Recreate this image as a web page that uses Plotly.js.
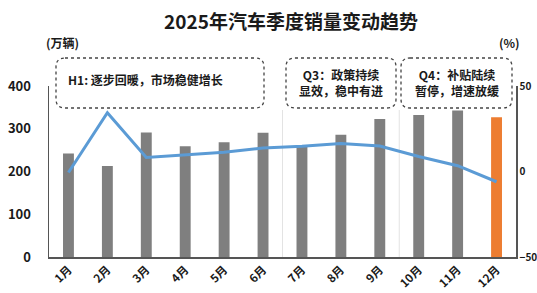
<!DOCTYPE html>
<html>
<head>
<meta charset="utf-8">
<script src="https://cdn.plot.ly/plotly-3.0.1.min.js"></script>
<style>html,body{margin:0;padding:0;background:#fff;}#chart{width:537px;height:293px;}</style>
</head>
<body>
<div id="chart"></div>
<script>
const months = ['1月','2月','3月','4月','5月','6月','7月','8月','9月','10月','11月','12月'];
const sales = [242.3, 212.9, 291.5, 259.0, 268.6, 290.4, 259.3, 285.7, 322.7, 332.2, 342.9, 327.0];
const yoy = [-0.6, 34.4, 8.2, 9.8, 11.2, 13.8, 14.7, 16.4, 14.9, 8.8, 3.4, -6.0];
const leftTicks = [0, 100, 200, 300, 400];
const rightTicks = [-50, 0, 50];
const notes = [
  {text: 'H1: 逐步回暖，市场稳健增长', align: 'left'},
  {text: 'Q3：政策持续<br>显效，稳中有进', align: 'center'},
  {text: 'Q4：补贴陆续<br>暂停，增速放缓', align: 'center'}
];
const dividers = [5.5, 8.5];

const FONT = '"Noto Sans CJK SC", "Noto Sans", sans-serif';
const W = 537, H = 293;
const L = 49, R = 516, T = 86, B = 257;
const px = x => (x - L) / (R - L);
const py = y => (B - y) / (B - T);

function roundRect(x0, y0, x1, y1, r) {
  const rx = r / (R - L), ry = r / (B - T);
  const a = px(x0), b = px(x1), top = py(y0), bot = py(y1);
  return `M ${a + rx},${top} L ${b - rx},${top} Q ${b},${top} ${b},${top - ry} ` +
    `L ${b},${bot + ry} Q ${b},${bot} ${b - rx},${bot} L ${a + rx},${bot} ` +
    `Q ${a},${bot} ${a},${bot + ry} L ${a},${top - ry} Q ${a},${top} ${a + rx},${top} Z`;
}

const barColors = sales.map((v, i) => i === sales.length - 1 ? '#ED7D31' : '#7F7F7F');

const traces = [
  {type: 'bar', x: months, y: sales, marker: {color: barColors}, hoverinfo: 'skip'},
  {type: 'scatter', mode: 'lines', x: months, y: yoy, yaxis: 'y2',
   line: {color: '#5B9BD5', width: 3}, hoverinfo: 'skip'}
];

const boxes = [[56, 58, 264, 108], [286, 58, 396, 108], [401, 58, 512, 108]];
const shapes = boxes.map(b => ({type: 'path', xref: 'paper', yref: 'paper',
  path: roundRect(b[0], b[1], b[2], b[3], 9),
  line: {color: '#444', width: 1.3, dash: 'dot'}, fillcolor: 'rgba(255,255,255,0)'}));
dividers.forEach(d => shapes.push({type: 'line', xref: 'x', yref: 'paper', x0: d, x1: d,
  y0: 0, y1: py(110), line: {color: '#E3E3E3', width: 1}, layer: 'below'}));

const noteFont = {family: FONT, size: 12, color: '#1a1a1a', weight: 'bold'};
const annotations = [
  {xref: 'paper', yref: 'paper', x: px(66), y: py(80), xanchor: 'left', yanchor: 'middle',
   text: notes[0].text, showarrow: false, align: 'left', font: noteFont},
  {xref: 'paper', yref: 'paper', x: px(341), y: py(82), xanchor: 'center', yanchor: 'middle',
   text: notes[1].text, showarrow: false, align: 'center', font: noteFont},
  {xref: 'paper', yref: 'paper', x: px(456.5), y: py(82), xanchor: 'center', yanchor: 'middle',
   text: notes[2].text, showarrow: false, align: 'center', font: noteFont},
  {xref: 'paper', yref: 'paper', x: px(62), y: py(43), xanchor: 'center', yanchor: 'middle',
   text: '(万辆)', showarrow: false,
   font: {family: FONT, size: 12, color: '#1a1a1a', weight: 'bold'}},
  {xref: 'paper', yref: 'paper', x: px(509), y: py(43), xanchor: 'center', yanchor: 'middle',
   text: '(%)', showarrow: false,
   font: {family: FONT, size: 12, color: '#1a1a1a', weight: 'bold'}}
];

const layout = {
  width: W, height: H,
  margin: {l: L, r: W - R, t: T, b: H - B, pad: 0},
  paper_bgcolor: '#fff', plot_bgcolor: '#fff',
  showlegend: false,
  bargap: 0.72,
  title: {text: '2025年汽车季度销量变动趋势', x: 291 / W, xanchor: 'center',
    y: 1 - 22 / H, yanchor: 'middle', yref: 'container',
    font: {family: FONT, size: 19, color: '#1a1a1a', weight: 'bold'}},
  xaxis: {type: 'category', showline: true, linecolor: '#555', linewidth: 1.5,
    ticks: '', tickangle: -45, showgrid: false, zeroline: false,
    tickfont: {family: FONT, size: 11.5, color: '#1a1a1a', weight: 'bold'}},
  yaxis: {range: [0, 400], tickvals: leftTicks, showline: true, linecolor: '#555', linewidth: 1.5,
    showgrid: false, zeroline: false, ticks: '', ticklabelstandoff: 14,
    tickfont: {family: FONT, size: 13, color: '#1a1a1a', weight: 'bold'}},
  yaxis2: {range: [-50, 50], tickvals: rightTicks, overlaying: 'y', side: 'right',
    showline: true, linecolor: '#555', linewidth: 1.5, showgrid: false, zeroline: false,
    ticks: '', ticklabelstandoff: 0,
    tickfont: {family: FONT, size: 10, color: '#1a1a1a', weight: 'bold'}},
  shapes: shapes,
  annotations: annotations
};

Plotly.newPlot('chart', traces, layout, {staticPlot: true, displayModeBar: false});
</script>
</body>
</html>
